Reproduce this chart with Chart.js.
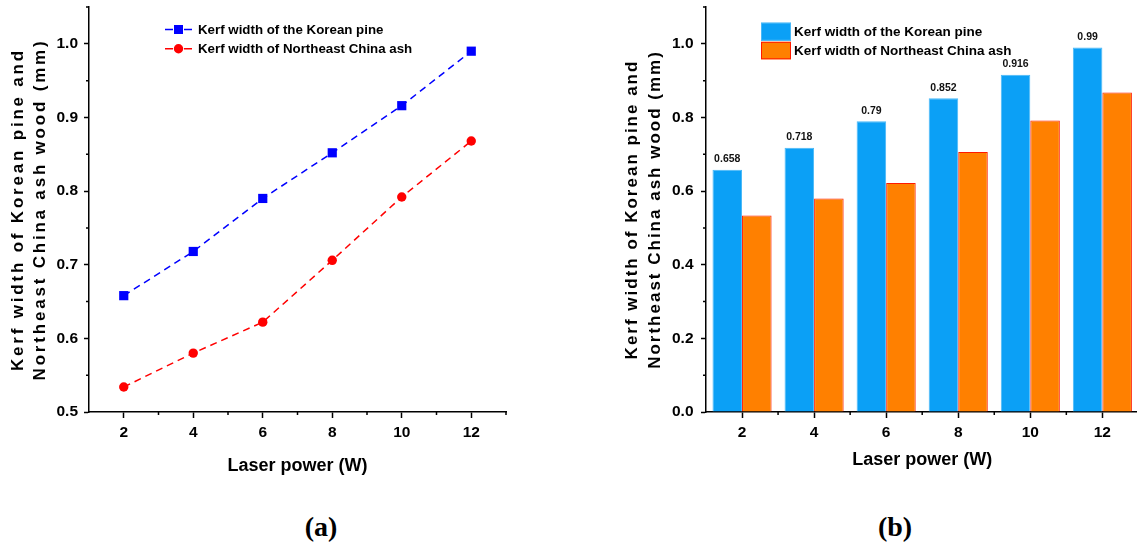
<!DOCTYPE html>
<html><head><meta charset="utf-8">
<script src="https://cdn.jsdelivr.net/npm/chart.js@4.4.1/dist/chart.umd.min.js"></script>
<style>
html,body{margin:0;padding:0;background:#fff;}
body{width:1137px;height:545px;overflow:hidden;position:relative;font-family:"Liberation Sans",Arial,sans-serif;}
#wa{position:absolute;left:0;top:0;width:520px;height:500px;}
#wb{position:absolute;left:600px;top:0;width:545px;height:500px;}
.pl{position:absolute;top:513px;font:bold 28px "Liberation Serif","Times New Roman",serif;line-height:28px;transform:translateX(-50%);white-space:nowrap;color:#000}
</style></head><body>
<div id="wa"><canvas id="ca" width="520" height="500"></canvas></div>
<div id="wb"><canvas id="cb" width="545" height="500"></canvas></div>
<div class="pl" style="left:321px">(a)</div>
<div class="pl" style="left:895px">(b)</div>
<script>
// ---- data ----
const laserPower = [2, 4, 6, 8, 10, 12];
const koreanPine = [0.658, 0.718, 0.79, 0.852, 0.916, 0.99];
const chinaAsh = [0.534, 0.58, 0.622, 0.706, 0.792, 0.868];
const xTicks = [2, 4, 6, 8, 10, 12];
const xMinorTicks = [3, 5, 7, 9, 11, 13];
const yTicksA = [0.5, 0.6, 0.7, 0.8, 0.9, 1.0];
const yMinorA = [0.55, 0.65, 0.75, 0.85, 0.95, 1.05];
const yTicksB = [0, 0.2, 0.4, 0.6, 0.8, 1.0];
const yMinorB = [0.1, 0.3, 0.5, 0.7, 0.9, 1.1];
const seriesNames = ['Kerf width of the Korean pine', 'Kerf width of Northeast China ash'];
const xTitle = 'Laser power (W)';
const yTitle = ['Kerf width of Korean pine and', 'Northeast China ash wood (mm)'];

const FONT = '"Liberation Sans", Arial, sans-serif';
Chart.defaults.font.family = FONT;
Chart.defaults.color = '#000';

const pts = (ys) => laserPower.map((x, i) => ({x: x, y: ys[i]}));

// letter-spaced axis title
const titleSpacing = {
  id: 'titleSpacing',
  beforeDraw(chart, args, o) {
    const s = chart.scales.y;
    if (!s._spPatched) {
      const orig = Object.getPrototypeOf(s).drawTitle;
      s.drawTitle = function () {
        const ctx = this.ctx;
        const prev = ctx.letterSpacing;
        ctx.letterSpacing = o.spacing + 'px';
        orig.call(this);
        ctx.letterSpacing = prev || '0px';
      };
      s._spPatched = true;
    }
  }
};

// minor tick marks
const minorTicks = {
  id: 'minorTicks',
  afterDraw(chart, args, o) {
    const ctx = chart.ctx, ca = chart.chartArea;
    ctx.save();
    ctx.strokeStyle = '#000';
    ctx.lineWidth = 1.5;
    ctx.beginPath();
    o.x.forEach(v => {
      const px = chart.scales.x.getPixelForValue(v);
      ctx.moveTo(px, ca.bottom); ctx.lineTo(px, ca.bottom + o.len);
    });
    o.y.forEach(v => {
      const py = chart.scales.y.getPixelForValue(v);
      ctx.moveTo(ca.left, py); ctx.lineTo(ca.left - o.len, py);
    });
    ctx.stroke();
    ctx.restore();
  }
};

// legend for line chart
const legendA = {
  id: 'legendA',
  afterDraw(chart) {
    const ctx = chart.ctx;
    const ds = chart.data.datasets;
    const rows = [29.5, 48.7];
    ds.forEach((d, i) => {
      const y = rows[i];
      ctx.save();
      ctx.strokeStyle = d.borderColor; ctx.fillStyle = d.borderColor; ctx.lineWidth = 1.5;
      ctx.beginPath();
      ctx.moveTo(165, y); ctx.lineTo(173, y);
      ctx.moveTo(184, y); ctx.lineTo(192, y);
      ctx.stroke();
      if (d.pointStyle === 'rect') {
        ctx.fillRect(178.5 - 4.5, y - 4.5, 9, 9);
      } else {
        ctx.beginPath(); ctx.arc(178.5, y, 4.7, 0, Math.PI * 2); ctx.fill();
      }
      ctx.fillStyle = '#000';
      ctx.font = 'bold 13.3px ' + FONT;
      ctx.textBaseline = 'middle';
      ctx.textAlign = 'left';
      ctx.fillText(d.label, 198, y + 0.5);
      ctx.restore();
    });
  }
};

// legend for bar chart
const legendB = {
  id: 'legendB',
  afterDraw(chart) {
    const ctx = chart.ctx;
    const ds = chart.data.datasets;
    const boxes = [[22.7, 18], [41.8, 17.5]];
    ds.forEach((d, i) => {
      const [by, bh] = boxes[i];
      ctx.save();
      ctx.fillStyle = d.backgroundColor;
      ctx.fillRect(161, by, 30, bh);
      ctx.strokeStyle = d.borderColor; ctx.lineWidth = 1;
      ctx.strokeRect(161.5, by + 0.5, 29, bh - 1);
      ctx.fillStyle = '#000';
      ctx.font = 'bold 13.5px ' + FONT;
      ctx.textBaseline = 'middle';
      ctx.textAlign = 'left';
      ctx.fillText(d.label, 194, by + bh / 2 + 0.5);
      ctx.restore();
    });
  }
};

// value labels on the blue bars
const barLabels = {
  id: 'barLabels',
  afterDatasetsDraw(chart) {
    const ctx = chart.ctx;
    const meta = chart.getDatasetMeta(0);
    const data = chart.data.datasets[0].data;
    ctx.save();
    ctx.fillStyle = '#111';
    ctx.font = 'bold 10.5px ' + FONT;
    ctx.textAlign = 'center';
    ctx.textBaseline = 'alphabetic';
    meta.data.forEach((el, i) => {
      ctx.fillText(String(data[i].y), el.x, el.y - 7.5);
    });
    ctx.restore();
  }
};

function xScale(padBottom, tickPad) {
  return {
    type: 'linear', min: 1, max: 13, offset: false,
    afterBuildTicks: s => { s.ticks = xTicks.map(v => ({value: v})); },
    afterFit: s => { s.height = 88; s.paddingLeft = 0; s.paddingRight = 0; },
    grid: {display: true, offset: false, drawOnChartArea: false, drawTicks: true, tickLength: 6, tickWidth: 1.5, tickColor: '#000'},
    border: {display: true, color: '#000', width: 1.5},
    ticks: {color: '#000', font: {size: 15.5, weight: 'bold'}, padding: tickPad, maxRotation: 0, autoSkip: false, callback: v => String(v)},
    title: {display: true, text: xTitle, color: '#000', font: {size: 18, weight: 'bold'}, padding: {top: 0, bottom: padBottom}}
  };
}

function yScale(min, max, ticks, width, tickPad, titlePad, lh) {
  return {
    type: 'linear', min: min, max: max, beginAtZero: false,
    afterBuildTicks: s => { s.ticks = ticks.map(v => ({value: v})); },
    afterFit: s => { s.width = width; s.paddingTop = 0; s.paddingBottom = 0; },
    grid: {display: true, drawOnChartArea: false, drawTicks: true, tickLength: 5, tickWidth: 1.5, tickColor: '#000'},
    border: {display: true, color: '#000', width: 1.5},
    ticks: {color: '#000', font: {size: 15.5, weight: 'bold'}, padding: tickPad, autoSkip: false, callback: v => Number(v).toFixed(1)},
    title: {display: true, text: yTitle, color: '#000', font: {size: 17, weight: 'bold', lineHeight: lh}, padding: {top: titlePad, bottom: 0}}
  };
}

// ---- chart (a) ----
new Chart(document.getElementById('ca'), {
  type: 'line',
  data: {
    datasets: [
      {label: seriesNames[0], data: pts(koreanPine), borderColor: '#0000ff', backgroundColor: '#0000ff',
       borderWidth: 1.5, borderDash: [7, 5], pointStyle: 'rect', pointRadius: 6.5, pointBorderWidth: 0, tension: 0},
      {label: seriesNames[1], data: pts(chinaAsh), borderColor: '#ff0000', backgroundColor: '#ff0000',
       borderWidth: 1.5, borderDash: [7, 5], pointStyle: 'circle', pointRadius: 4.7, pointBorderWidth: 0, tension: 0}
    ]
  },
  options: {
    responsive: false, animation: false, devicePixelRatio: 1,
    layout: {padding: {left: 0, top: 7, right: 14, bottom: 0}},
    plugins: {
      legend: {display: false}, tooltip: {enabled: false},
      minorTicks: {x: xMinorTicks, y: yMinorA, len: 3},
      titleSpacing: {spacing: 2.8}
    },
    scales: {
      x: xScale(22.7, 5.5),
      y: yScale(0.5, 1.05, yTicksA, 89, 6, 7.0, 1.32)
    }
  },
  plugins: [titleSpacing, minorTicks, legendA]
});

// ---- chart (b) ----
new Chart(document.getElementById('cb'), {
  type: 'bar',
  data: {
    datasets: [
      {label: seriesNames[0], data: pts(koreanPine), backgroundColor: '#0ba0f6', borderColor: '#48b8f8', borderWidth: 1,
       categoryPercentage: 0.82, barPercentage: 1.0},
      {label: seriesNames[1], data: pts(chinaAsh), backgroundColor: '#ff8000', borderColor: '#ff1a00', borderWidth: 1,
       categoryPercentage: 0.82, barPercentage: 1.0}
    ]
  },
  options: {
    responsive: false, animation: false, devicePixelRatio: 1,
    layout: {padding: {left: 0, top: 7, right: 6.6, bottom: 0}},
    plugins: {
      legend: {display: false}, tooltip: {enabled: false},
      minorTicks: {x: xMinorTicks, y: yMinorB, len: 3},
      titleSpacing: {spacing: 2.0}
    },
    scales: {
      x: xScale(29.4, 5.5),
      y: yScale(0, 1.1, yTicksB, 106, 7.5, 20.5, 1.38)
    }
  },
  plugins: [titleSpacing, minorTicks, legendB, barLabels]
});
</script>
</body></html>
